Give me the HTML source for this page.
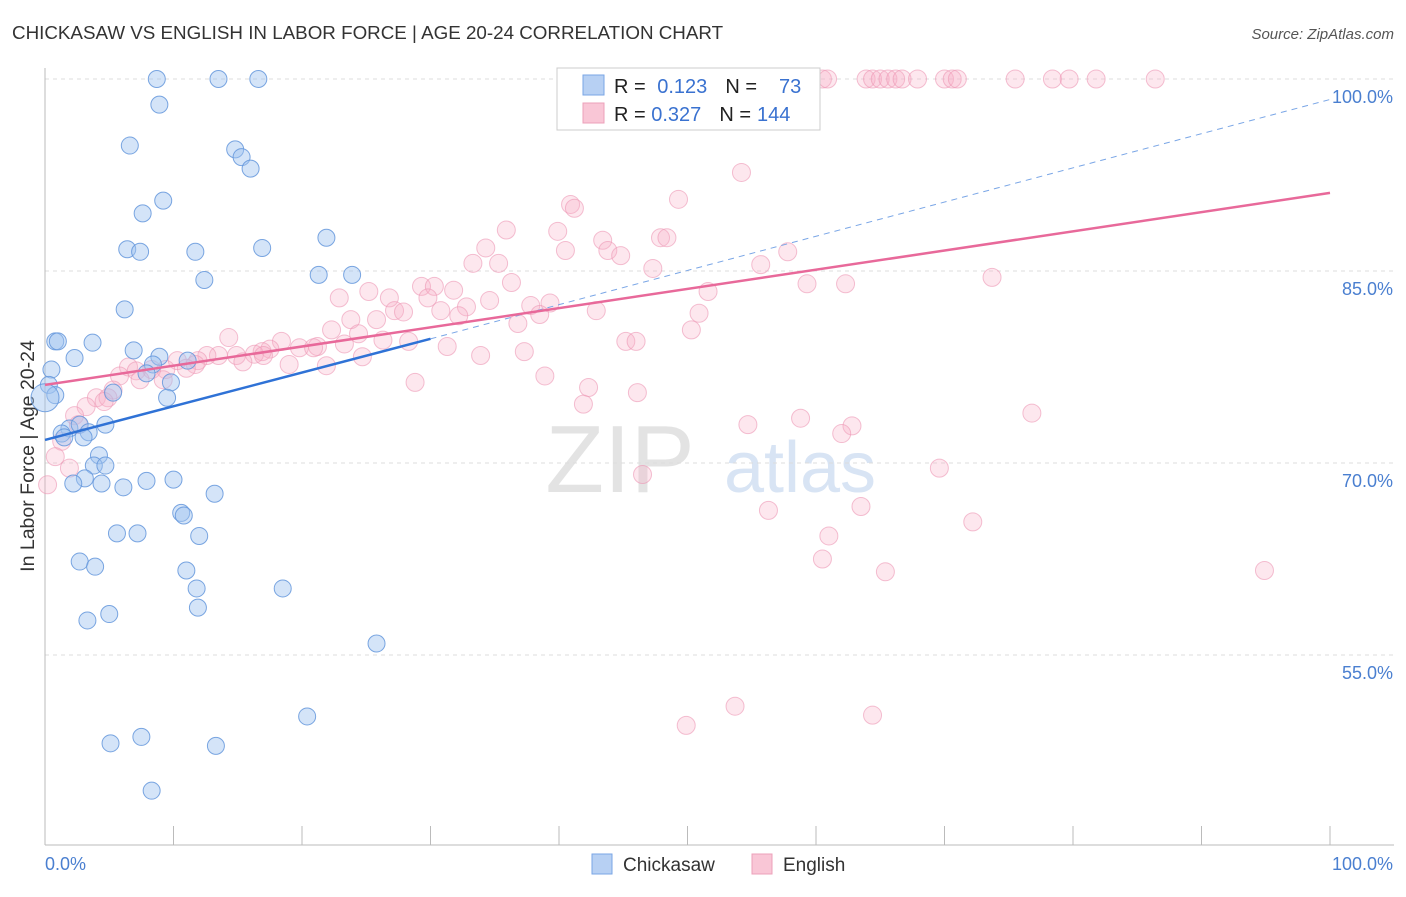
<!DOCTYPE html>
<html><head><meta charset="utf-8"><style>
body{margin:0;background:#fff;font-family:"Liberation Sans",sans-serif;}
svg text{font-family:"Liberation Sans",sans-serif;}
</style></head><body>
<svg id="c" width="1406" height="892">
<text x="12" y="39" font-size="18.8" fill="#333">CHICKASAW VS ENGLISH IN LABOR FORCE | AGE 20-24 CORRELATION CHART</text>
<text x="1394" y="39" font-size="15" fill="#555" font-style="italic" text-anchor="end">Source: ZipAtlas.com</text>
<text x="620" y="492" font-size="96" fill="#e3e3e3" font-family="Liberation Serif" text-anchor="middle">ZIP</text>
<text x="800" y="492" font-size="72" fill="#d8e4f4" text-anchor="middle">atlas</text>
<text x="34" y="456" font-size="19.5" fill="#333" text-anchor="middle" transform="rotate(-90 34 456)">In Labor Force | Age 20-24</text>
<g id="grid"></g><g id="pts"></g><g id="trend"></g>
<g>
<rect x="557" y="68" width="263" height="62" fill="#fff" stroke="#ccc"/>
<rect x="583" y="75" width="21" height="20" fill="#b7d0f3" stroke="#7aa6e6"/>
<rect x="583" y="103" width="21" height="20" fill="#f9c6d6" stroke="#eca0ba"/>
<text x="614" y="93" font-size="20" fill="#222">R = <tspan fill="#3a72d0" dx="6">0.123</tspan><tspan fill="#222" dx="18">N =</tspan><tspan fill="#3a72d0" dx="22">73</tspan></text>
<text x="614" y="121" font-size="20" fill="#222">R = <tspan fill="#3a72d0">0.327</tspan><tspan fill="#222" dx="18">N =</tspan><tspan fill="#3a72d0" dx="6">144</tspan></text>
</g>
<g>
<rect x="592" y="854" width="20" height="20" fill="#b7d0f3" stroke="#7aa6e6"/>
<text x="623" y="871" font-size="19" fill="#333">Chickasaw</text>
<rect x="752" y="854" width="20" height="20" fill="#f9c6d6" stroke="#eca0ba"/>
<text x="783" y="871" font-size="19" fill="#333">English</text>
</g>
</svg>
<script>
const yTicks=[100,85,70,55];
const yTickLabels=["100.0%","85.0%","70.0%","55.0%"];
const xTickLabels=["0.0%","100.0%"];
const blueX=[8.7,13.5,16.6,8.9,6.6,14.8,15.3,16.0,9.2,7.6,6.4,7.4,11.7,16.9,21.9,12.4,21.3,23.9,6.2,0.8,1.0,3.7,2.3,6.9,8.9,8.4,11.1,0.5,7.9,9.8,0.3,0.8,5.3,9.5,0,4.7,1.9,1.3,2.7,1.5,3.4,3.0,4.2,3.8,4.7,3.1,2.2,4.4,6.1,7.9,10.0,13.2,10.6,10.8,5.6,7.2,12.0,2.7,3.9,11.0,11.8,18.5,5.0,3.3,11.9,25.8,20.4,5.1,7.5,13.3,8.3];
const blueY=[100,100,100,98.0,94.8,94.5,93.9,93.0,90.5,89.5,86.7,86.5,86.5,86.8,87.6,84.3,84.7,84.7,82.0,79.5,79.5,79.4,78.2,78.8,78.3,77.7,78.0,77.3,77.0,76.3,76.1,75.3,75.5,75.1,75.1,73.0,72.7,72.3,73.0,72.0,72.4,72.0,70.6,69.8,69.8,68.8,68.4,68.4,68.1,68.6,68.7,67.6,66.1,65.9,64.5,64.5,64.3,62.3,61.9,61.6,60.2,60.2,58.2,57.7,58.7,55.9,50.2,48.1,48.6,47.9,44.4];
const pinkX=[52.2,52.8,53.4,55.4,58.5,59.6,60.5,60.9,63.9,64.4,65.0,65.6,66.2,66.7,67.9,70.0,70.6,71.0,75.5,78.4,79.7,81.8,86.4,44.3,54.2,49.3,40.9,41.2,35.9,39.9,43.4,47.9,48.4,34.3,40.5,43.8,44.8,57.8,33.3,35.3,55.7,47.3,36.3,59.3,62.3,73.7,29.3,30.3,31.8,51.6,22.9,25.2,26.8,29.8,34.6,37.8,39.3,32.8,30.8,27.2,27.9,32.2,38.5,42.9,50.9,23.8,25.8,36.8,50.3,22.3,24.4,26.3,21.2,23.3,28.3,31.3,45.2,46.0,14.3,18.4,19.8,20.9,17.5,16.9,16.3,14.9,13.5,12.6,11.9,10.3,15.4,17.0,19.0,21.9,24.7,33.9,37.3,11.7,11.0,9.4,8.3,6.5,7.1,5.8,7.4,9.2,38.9,28.8,42.3,46.1,5.3,4.0,4.9,4.6,3.2,41.9,58.8,76.8,2.3,54.7,62.8,62.0,2.6,1.3,0.8,1.9,46.5,69.6,0.2,63.5,56.3,72.2,61.0,60.5,65.4,94.9,53.7,49.9,64.4];
const pinkY=[100,100,100,100,100,100,100,100,100,100,100,100,100,100,100,100,100,100,100,100,100,100,100,98.4,92.7,90.6,90.2,89.9,88.2,88.1,87.4,87.6,87.6,86.8,86.6,86.6,86.2,86.5,85.6,85.6,85.5,85.2,84.1,84.0,84.0,84.5,83.8,83.8,83.5,83.4,82.9,83.4,82.9,82.9,82.7,82.3,82.5,82.2,81.9,81.9,81.8,81.5,81.6,81.9,81.7,81.2,81.2,80.9,80.4,80.4,80.1,79.6,79.1,79.3,79.5,79.1,79.5,79.5,79.8,79.5,79.0,79.0,78.9,78.7,78.5,78.4,78.4,78.4,78.0,78.0,77.9,78.4,77.7,77.6,78.3,78.4,78.7,77.7,77.4,77.3,77.3,77.5,77.2,76.8,76.5,76.5,76.8,76.3,75.9,75.5,75.7,75.1,75.1,74.8,74.4,74.6,73.5,73.9,73.7,73.0,72.9,72.3,73.0,71.7,70.5,69.6,69.1,69.6,68.3,66.6,66.3,65.4,64.3,62.5,61.5,61.6,51.0,49.5,50.3];
const blueTrend=[[0,71.8],[30,79.7]];
const blueDash=[[30,79.7],[100,98.4]];
const pinkTrend=[[0,76.1],[100,91.1]];
const X=v=>45+v*12.85, Y=v=>79+(100-v)*12.8;
const NS="http://www.w3.org/2000/svg";
function mk(tag,attrs,parent){const e=document.createElementNS(NS,tag);for(const k in attrs)e.setAttribute(k,attrs[k]);parent.appendChild(e);return e;}
const grid=document.getElementById('grid'),pts=document.getElementById('pts'),tr=document.getElementById('trend');
yTicks.forEach((t,i)=>{
 const l=mk('line',{x1:45,x2:1394,y1:Y(t),y2:Y(t),stroke:'#ddd','stroke-dasharray':'4,4'},grid);
 
 
 const tx=mk('text',{x:1393,y:Y(t)+24,'font-size':18,fill:'#4a7fd0','text-anchor':'end'},grid);tx.textContent=yTickLabels[i];
 
 
});
const ax=mk('line',{x1:45,x2:45,y1:68,y2:845,stroke:'#bbb'},grid);


const bx=mk('line',{x1:45,x2:1394,y1:845,y2:845,stroke:'#bbb'},grid);


for(let i=0;i<=10;i++){const t=mk('line',{x1:X(i*10),x2:X(i*10),y1:826,y2:845,stroke:'#bbb'},grid);
 
 }
[[0,'start'],[100,'end']].forEach((p,i)=>{const t=mk('text',{x:X(p[0])+(i?63:0),y:870,'font-size':18,fill:'#4a7fd0','text-anchor':p[1]},grid);t.textContent=xTickLabels[i];
 
 });
pinkX.forEach((x,i)=>{const c=mk('circle',{cx:X(x),cy:Y(pinkY[i]),r:9,fill:'rgba(248,175,200,0.3)',stroke:'rgba(236,150,180,0.6)'},pts);
 
 });
blueX.forEach((x,i)=>{const c=mk('circle',{cx:X(x),cy:Y(blueY[i]),r:x===0?14:8.5,fill:'rgba(160,196,240,0.45)',stroke:'rgba(100,150,220,0.85)'},pts);
 
 });
const bd=mk('line',{x1:X(blueDash[0][0]),y1:Y(blueDash[0][1]),x2:X(blueDash[1][0]),y2:Y(blueDash[1][1]),stroke:'#7aa6e6','stroke-dasharray':'6,5','stroke-width':1},tr);


const pt=mk('line',{x1:X(pinkTrend[0][0]),y1:Y(pinkTrend[0][1]),x2:X(pinkTrend[1][0]),y2:Y(pinkTrend[1][1]),stroke:'#e8699a','stroke-width':2.5},tr);


const bt=mk('line',{x1:X(blueTrend[0][0]),y1:Y(blueTrend[0][1]),x2:X(blueTrend[1][0]),y2:Y(blueTrend[1][1]),stroke:'#2f72d6','stroke-width':2.5},tr);


</script>
</body></html>
